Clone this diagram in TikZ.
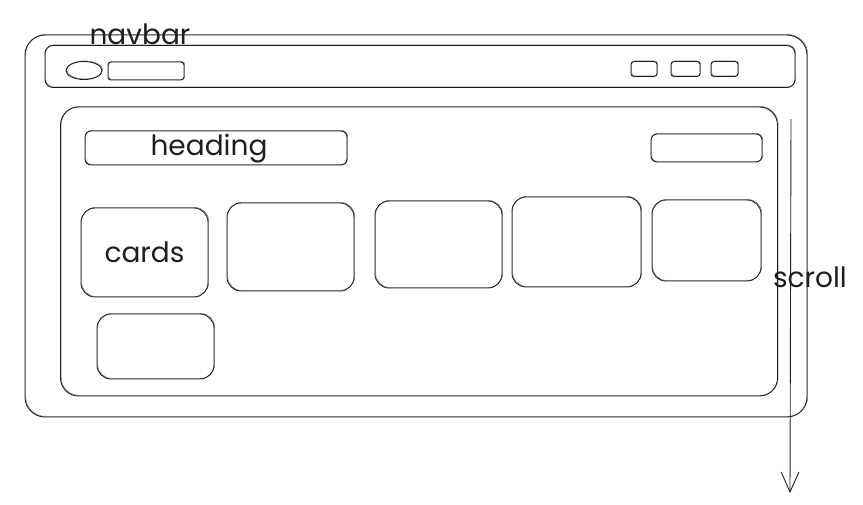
\documentclass[tikz,border=0pt]{standalone}
\usepackage{fontspec}
\setmainfont{Poppins}
\usetikzlibrary{arrows.meta,shapes.geometric}

\tikzset{
  sketch/.style={draw=ink, line width=0.9pt, inner sep=0pt,
    preaction={draw=ink!60, line width=0.5pt, transform canvas={shift={(0.7pt,0.6pt)}}}},
  box/.style={sketch, rounded corners=#1},
  box/.default=6pt,
  hand/.style={font=\fontsize{28}{30}\selectfont, text=ink},
}

\begin{document}
\begin{tikzpicture}[x=1pt,y=-1pt]
\definecolor{ink}{RGB}{30,30,30}
\useasboundingbox (0,0) rectangle (863,504);

\node[box=20pt, minimum width=782pt, minimum height=382pt] (window) at (416,226) {};
\node[box=8pt, minimum width=750pt, minimum height=42pt] (navbar) at (420,66.5) {};
\node[hand] (navlbl) at (140,34) {navbar};

\node[sketch, ellipse, minimum width=36pt, minimum height=18pt] (logo) at (84,70.5) {};
\node[box=3pt, minimum width=76pt, minimum height=18pt] (search) at (146,71) {};
\foreach \n/\x/\w in {1/644/26,2/685.5/29,3/724.5/27}
  \node[box=3pt, minimum width=\w pt, minimum height=15pt] (menu\n) at (\x,69) {};

\node[box=18pt, minimum width=717pt, minimum height=289pt] (content) at (419,251.5) {};
\node[box=6pt, minimum width=262pt, minimum height=34pt] (heading) at (216,148) {};
\node[hand] (headlbl) at (209,149) {heading};
\node[box=6pt, minimum width=111pt, minimum height=28pt] (button) at (706.5,148) {};

\node[box=14pt, minimum width=127pt, minimum height=89pt, hand] (card1) at (144.5,252.5) {cards};
\foreach \n/\x/\y/\w/\h in {2/290.5/247/127/88,3/438.5/244.5/127/87,4/576.5/242/129/90,5/706.5/240.5/109/81,6/155.5/346.5/117/65}
  \node[box=14pt, minimum width=\w pt, minimum height=\h pt] (card\n) at (\x,\y) {};

\coordinate (scrolltop) at (791,119);
\coordinate (scrollend) at (790,493);
\draw[ink, line width=0.9pt, -{Straight Barb[length=20pt,width=18pt]}] (scrolltop) -- (scrollend);
\node[hand] (scrolllbl) at (810,277) {scroll};

\end{tikzpicture}
\end{document}
